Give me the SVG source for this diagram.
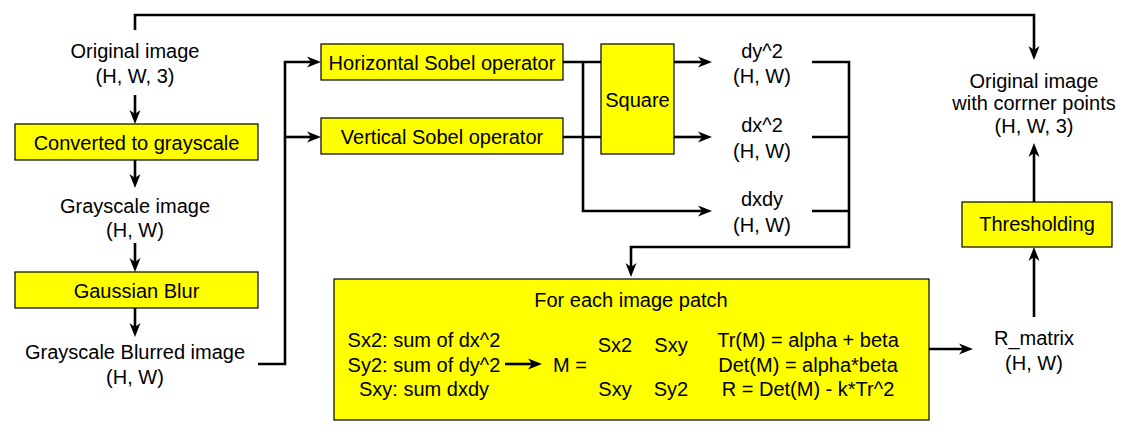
<svg xmlns="http://www.w3.org/2000/svg" width="1131" height="436" viewBox="0 0 1131 436">
<style>
text{font-family:"Liberation Sans",Arial,sans-serif;font-size:20px;fill:#000;text-anchor:middle}
.box{fill:#FFFF00;stroke:#000;stroke-width:1.2}
.c{fill:none;stroke:#000;stroke-width:2.6}
.a{marker-end:url(#ah)}
.l{text-anchor:start}
</style>
<defs>
<marker id="ah" markerUnits="userSpaceOnUse" markerWidth="20" markerHeight="14" viewBox="0 -7 16 14" refX="6" refY="0" orient="auto">
<path d="M0,-5.5 L14,0 L0,5.5 L4,0 Z" fill="#000"/>
</marker>
</defs>
<g id="connectors">
<path class="c a" d="M135,30 V15 H1034 V52"/>
<path class="c a" d="M135,95 V116"/>
<path class="c a" d="M135,160 V180"/>
<path class="c a" d="M135,243 V264"/>
<path class="c a" d="M135,308 V329"/>
<path class="c a" d="M258,364 H285 V62 H313"/>
<path class="c a" d="M285,137 H313"/>
<path class="c" d="M563,62 H601"/>
<path class="c" d="M563,137 H601"/>
<path class="c a" d="M583,62 V211 H704"/>
<path class="c a" d="M674,62 H704"/>
<path class="c a" d="M674,137 H704"/>
<path class="c a" d="M812,62 H849 V247 H631 V269"/>
<path class="c" d="M812,137 H849"/>
<path class="c" d="M812,211 H849"/>
<path class="c a" d="M929,349 H965"/>
<path class="c a" d="M1034,317 V255"/>
<path class="c a" d="M1034,202 V151"/>
</g>
<g id="original-image">
<text x="135" y="58">Original image</text>
<text x="135" y="83">(H, W, 3)</text>
</g>
<g id="grayscale-convert">
<rect class="box" x="15" y="124" width="243" height="36"/>
<text x="136.5" y="150">Converted to grayscale</text>
</g>
<g id="grayscale-image">
<text x="135" y="213">Grayscale image</text>
<text x="135" y="237">(H, W)</text>
</g>
<g id="gaussian-blur">
<rect class="box" x="15" y="272" width="243" height="36"/>
<text x="136.5" y="298">Gaussian Blur</text>
</g>
<g id="blurred-image">
<text x="135" y="359">Grayscale Blurred image</text>
<text x="135" y="384">(H, W)</text>
</g>
<g id="horizontal-sobel">
<rect class="box" x="321" y="44" width="242" height="36"/>
<text x="442" y="70">Horizontal Sobel operator</text>
</g>
<g id="vertical-sobel">
<rect class="box" x="321" y="118" width="242" height="36"/>
<text x="442" y="144">Vertical Sobel operator</text>
</g>
<g id="square">
<rect class="box" x="601" y="44" width="73" height="110"/>
<text x="637.5" y="107">Square</text>
</g>
<g id="dy2">
<text x="762" y="58">dy^2</text>
<text x="762" y="83">(H, W)</text>
</g>
<g id="dx2">
<text x="762" y="132">dx^2</text>
<text x="762" y="158">(H, W)</text>
</g>
<g id="dxdy">
<text x="762" y="206">dxdy</text>
<text x="762" y="232">(H, W)</text>
</g>
<g id="patch">
<rect class="box" x="334" y="279" width="595" height="141"/>
<text x="631" y="307">For each image patch</text>
<text x="424" y="347">Sx2: sum of dx^2</text>
<text x="424" y="372">Sy2: sum of dy^2</text>
<text x="424" y="396">Sxy: sum dxdy</text>
<path class="c a" d="M505,364 H534"/>
<text x="570" y="372">M =</text>
<text x="615" y="352">Sx2</text>
<text x="671" y="352">Sxy</text>
<text x="615" y="396">Sxy</text>
<text x="671" y="396">Sy2</text>
<text x="808" y="347">Tr(M) = alpha + beta</text>
<text x="808" y="372">Det(M) = alpha*beta</text>
<text x="808" y="396">R = Det(M) - k*Tr^2</text>
</g>
<g id="r-matrix">
<text x="1034" y="345">R_matrix</text>
<text x="1034" y="370">(H, W)</text>
</g>
<g id="thresholding">
<rect class="box" x="962" y="202" width="150" height="45"/>
<text x="1037" y="231">Thresholding</text>
</g>
<g id="result-image">
<text x="1034" y="88">Original image</text>
<text x="1034" y="110">with corrner points</text>
<text x="1034" y="133">(H, W, 3)</text>
</g>
</svg>
